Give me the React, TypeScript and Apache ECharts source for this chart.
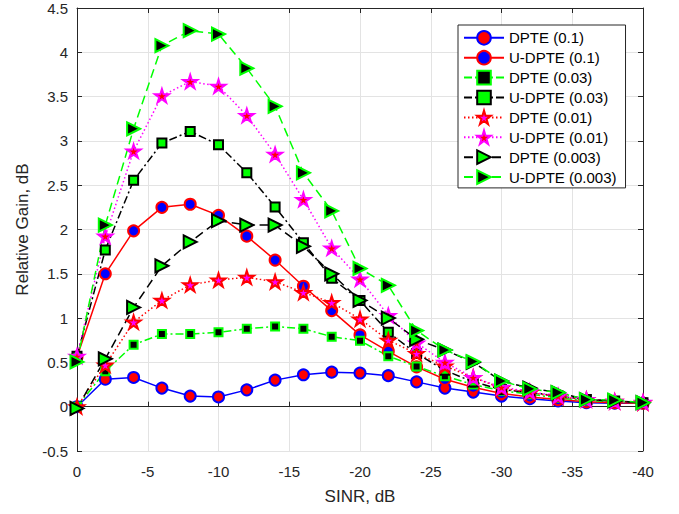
import React, { useEffect, useRef } from "react";
import * as echarts from "echarts";

const sinr = [0, -2, -4, -6, -8, -10, -12, -14, -16, -18, -20, -22, -24, -26, -28, -30, -32, -34, -36, -38, -40];

const dpte01 = [0.0, 0.31, 0.33, 0.21, 0.12, 0.11, 0.19, 0.3, 0.36, 0.39, 0.38, 0.35, 0.28, 0.21, 0.165, 0.12, 0.09, 0.065, 0.045, 0.04, 0.04];
const udpte01 = [0.56, 1.5, 1.985, 2.25, 2.285, 2.16, 1.925, 1.655, 1.36, 1.085, 0.81, 0.625, 0.45, 0.31, 0.22, 0.15, 0.11, 0.08, 0.055, 0.045, 0.04];
const dpte003a = [0.0, 0.4, 0.7, 0.82, 0.82, 0.84, 0.88, 0.905, 0.88, 0.79, 0.745, 0.57, 0.455, 0.345, 0.25, 0.18, 0.14, 0.1, 0.07, 0.055, 0.045];
const udpte003a = [0.57, 1.77, 2.555, 2.975, 3.107, 2.957, 2.64, 2.255, 1.85, 1.45, 1.2, 0.84, 0.6, 0.41, 0.28, 0.195, 0.16, 0.12, 0.08, 0.065, 0.045];
const dpte001 = [0.0, 0.47, 0.955, 1.2, 1.375, 1.43, 1.46, 1.41, 1.29, 1.175, 0.99, 0.75, 0.6, 0.46, 0.33, 0.21, 0.16, 0.11, 0.08, 0.06, 0.045];
const udpte001 = [0.57, 1.925, 2.885, 3.51, 3.67, 3.617, 3.287, 2.848, 2.338, 1.79, 1.44, 1.03, 0.72, 0.5, 0.33, 0.22, 0.17, 0.12, 0.08, 0.06, 0.05];
const dpte0003 = [-0.02, 0.54, 1.12, 1.59, 1.86, 2.1, 2.05, 2.05, 1.81, 1.5, 1.2, 1.0, 0.76, 0.64, 0.5, 0.29, 0.21, 0.16, 0.08, 0.065, 0.045];
const udpte0003 = [0.505, 2.05, 3.137, 4.075, 4.244, 4.206, 3.82, 3.39, 2.64, 2.21, 1.56, 1.37, 0.86, 0.64, 0.51, 0.29, 0.2, 0.16, 0.08, 0.075, 0.045];

const names = [
  "DPTE (0.1)",
  "U-DPTE (0.1)",
  "DPTE (0.03)",
  "U-DPTE (0.03)",
  "DPTE (0.01)",
  "U-DPTE (0.01)",
  "DPTE (0.003)",
  "U-DPTE (0.003)",
];

const STAR = "path://M50,0 L61,35 L98,35 L68,57 L79,91 L50,70 L21,91 L32,57 L2,35 L39,35 Z";
const FONT = "Liberation Sans, Arial, sans-serif";

function mk(
  name: string,
  vals: number[],
  lineColor: string,
  lineType: any,
  symbol: string,
  size: number,
  face: string,
  edge: string,
  rotate = 0
) {
  return {
    name,
    type: "line",
    data: sinr.map((x, i) => [x, vals[i]]),
    symbol,
    symbolSize: size,
    symbolRotate: rotate,
    symbolKeepAspect: true,
    showAllSymbol: true,
    lineStyle: { color: lineColor, width: 1.5, type: lineType },
    itemStyle: { color: face, borderColor: edge, borderWidth: 2 },
    emphasis: { disabled: true },
  };
}

export default function App() {
  const ref = useRef<HTMLDivElement>(null);
  useEffect(() => {
    if (!ref.current) return;
    const chart = echarts.init(ref.current, undefined, { renderer: "svg" });
    const dashDot = [8, 3, 2, 3];
    const dashed = [9, 5];
    const dotted = [1.5, 2.5];
    const axisColor = "#262626";
    const gridColor = "#e3e3e3";
    chart.setOption({
      animation: false,
      backgroundColor: "#ffffff",
      textStyle: { fontFamily: FONT },
      grid: { left: 77, top: 8, width: 566, height: 443 },
      legend: {
        left: 458,
        top: 25,
        orient: "vertical",
        itemGap: 4.3,
        itemWidth: 40,
        itemHeight: 17,
        padding: [5, 9, 3, 5],
        borderColor: "#262626",
        borderWidth: 1,
        backgroundColor: "#ffffff",
        textStyle: { fontSize: 15, color: "#000", fontFamily: FONT },
        data: names,
      },
      xAxis: [
        {
          type: "value",
          min: -40,
          max: 0,
          interval: 5,
          inverse: true,
          name: "SINR, dB",
          nameLocation: "middle",
          nameGap: 37,
          nameTextStyle: { fontSize: 17, color: "#262626", fontFamily: FONT },
          axisLine: { show: true, lineStyle: { color: axisColor, width: 1 } },
          axisTick: { show: true, inside: true, length: 5, lineStyle: { color: axisColor } },
          axisLabel: { fontSize: 15, color: "#262626", margin: 13, fontFamily: FONT },
          splitLine: { show: true, lineStyle: { color: gridColor, width: 1 } },
        },
        {
          type: "value",
          min: -40,
          max: 0,
          interval: 5,
          inverse: true,
          position: "top",
          axisLine: { show: true, onZero: false, lineStyle: { color: axisColor, width: 1 } },
          axisTick: { show: true, inside: true, length: 5, lineStyle: { color: axisColor } },
          axisLabel: { show: false },
          splitLine: { show: false },
        },
      ],
      yAxis: [
        {
          type: "value",
          min: -0.5,
          max: 4.5,
          interval: 0.5,
          name: "Relative Gain, dB",
          nameLocation: "middle",
          nameGap: 46,
          nameTextStyle: { fontSize: 17, color: "#262626", fontFamily: FONT },
          axisLine: { show: true, onZero: false, lineStyle: { color: axisColor, width: 1 } },
          axisTick: { show: true, inside: true, length: 5, lineStyle: { color: axisColor } },
          axisLabel: { fontSize: 15, color: "#262626", margin: 9, fontFamily: FONT },
          splitLine: { show: true, lineStyle: { color: gridColor, width: 1 } },
        },
        {
          type: "value",
          min: -0.5,
          max: 4.5,
          interval: 0.5,
          position: "right",
          axisLine: { show: true, onZero: false, lineStyle: { color: axisColor, width: 1 } },
          axisTick: { show: true, inside: true, length: 5, lineStyle: { color: axisColor } },
          axisLabel: { show: false },
          splitLine: { show: false },
        },
      ],
      series: [
        mk(names[0], dpte01, "#0000ff", "solid", "circle", 11, "#ff0000", "#0000ff"),
        mk(names[1], udpte01, "#ff0000", "solid", "circle", 11, "#0000ff", "#ff0000"),
        mk(names[2], dpte003a, "#00ff00", dashDot, "rect", 8, "#000000", "#00ff00"),
        mk(names[3], udpte003a, "#000000", dashDot, "rect", 9, "#00ff00", "#000000"),
        mk(names[4], dpte001, "#ff0000", dotted, STAR, 14, "#ff00ff", "#ff0000"),
        mk(names[5], udpte001, "#ff00ff", dotted, STAR, 14, "#ff0000", "#ff00ff"),
        mk(names[6], dpte0003, "#000000", dashed, "triangle", 13, "#00ff00", "#000000", -90),
        mk(names[7], udpte0003, "#00ff00", dashed, "triangle", 13, "#000000", "#00ff00", -90),
      ],
    });
    return () => chart.dispose();
  }, []);
  return (
    <div
      ref={ref}
      style={{ position: "fixed", left: 0, top: 0, width: 679, height: 514, background: "#fff" }}
    />
  );
}
